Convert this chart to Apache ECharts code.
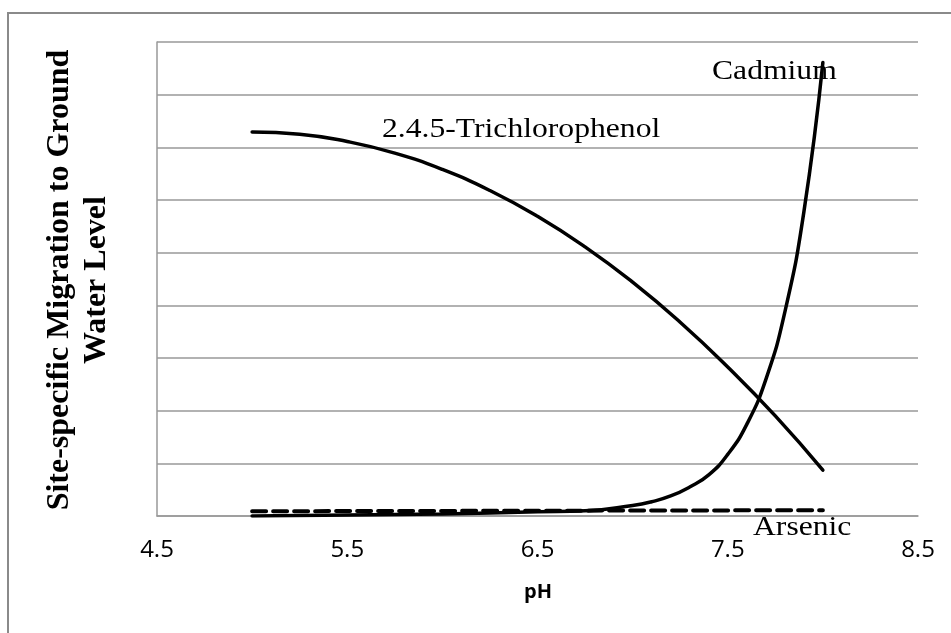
<!DOCTYPE html>
<html>
<head>
<meta charset="utf-8">
<script src="https://cdn.jsdelivr.net/npm/echarts@6/dist/echarts.min.js"></script>
<style>
html,body{margin:0;padding:0;background:#fff;}
#c{width:951px;height:633px;}
</style>
</head>
<body>
<div id="c"></div>
<script>
// pH values and (relative) site-specific migration levels
const trichloroPH = [5.0, 5.25, 5.5, 5.75, 6.0, 6.25, 6.5, 6.75, 7.0, 7.25, 7.5, 7.75, 8.0];
const trichloroVal = [7.29, 7.25, 7.11, 6.89, 6.58, 6.18, 5.69, 5.11, 4.44, 3.68, 2.83, 1.90, 0.87];

const cadmiumPH = [5.0, 5.5, 6.0, 6.5, 6.75, 7.0, 7.1, 7.2, 7.3, 7.4, 7.5, 7.6, 7.7, 7.8, 7.9, 8.0];
const cadmiumVal = [0.0, 0.02, 0.04, 0.08, 0.1, 0.2, 0.27, 0.38, 0.55, 0.78, 1.17, 1.74, 2.59, 3.87, 5.77, 8.61];

const arsenicPH = [5.0, 8.0];
const arsenicVal = [0.09, 0.11];

const xTickLabels = ['4.5', '5.5', '6.5', '7.5', '8.5'];
const seriesNames = ['2.4.5-Trichlorophenol', 'Cadmium', 'Arsenic'];
const yTitleLines = ['Site-specific Migration to Ground', 'Water Level'];
const xTitle = 'pH';

const zip = (a, b) => a.map((v, i) => [v, b[i]]);
const chart = echarts.init(document.getElementById('c'), null, {renderer: 'canvas'});
const serif = '"Liberation Serif", "Times New Roman", serif';
const gridCol = '#999999';

chart.setOption({
  animation: false,
  backgroundColor: '#ffffff',
  grid: {left: 157, right: 33, top: 42, bottom: 117, containLabel: false},
  xAxis: {
    type: 'value', min: 4.5, max: 8.5, interval: 0.5,
    axisLine: {show: true, lineStyle: {color: gridCol, width: 1.5}},
    axisTick: {show: false},
    splitLine: {show: false},
    axisLabel: {
      color: '#000', fontSize: 24, fontFamily: '"Open Sans", "Liberation Sans", Arial, sans-serif', margin: 22,
      formatter: function (v) {
        const idx = xTickLabels.indexOf(v.toFixed(1));
        return idx >= 0 ? xTickLabels[idx] : '';
      }
    }
  },
  yAxis: {
    type: 'value', min: 0, max: 9, interval: 1,
    axisLine: {show: true, lineStyle: {color: gridCol, width: 1.5}},
    axisTick: {show: false},
    axisLabel: {show: false},
    splitLine: {show: true, lineStyle: {color: gridCol, width: 1.5}}
  },
  series: [
    {name: seriesNames[0], type: 'line', data: zip(trichloroPH, trichloroVal), smooth: 0.5, showSymbol: false, symbol: 'none', z: 5,
     lineStyle: {color: '#000', width: 3.5, cap: 'round'}},
    {name: seriesNames[1], type: 'line', data: zip(cadmiumPH, cadmiumVal), smooth: 0.5, showSymbol: false, symbol: 'none', z: 5,
     lineStyle: {color: '#000', width: 3.5, cap: 'round'}},
    {name: seriesNames[2], type: 'line', data: zip(arsenicPH, arsenicVal), showSymbol: false, symbol: 'none', z: 5,
     lineStyle: {color: '#000', width: 4, type: [14, 7], cap: 'round'}}
  ],
  graphic: [
    {type: 'rect', z: -10, silent: true, shape: {x: 8, y: 13, width: 1000, height: 700},
     style: {fill: 'none', stroke: '#8a8a8a', lineWidth: 2}},
    {type: 'text', z: 0, x: 382, y: 116, scaleX: 1.13,
     style: {text: seriesNames[0], font: '28px ' + serif, fill: '#000', textAlign: 'left', textVerticalAlign: 'top'}},
    {type: 'text', z: 0, x: 712, y: 58, scaleX: 1.13,
     style: {text: seriesNames[1], font: '28px ' + serif, fill: '#000', textAlign: 'left', textVerticalAlign: 'top'}},
    {type: 'text', z: 0, x: 753, y: 514, scaleX: 1.13,
     style: {text: seriesNames[2], font: '28px ' + serif, fill: '#000', textAlign: 'left', textVerticalAlign: 'top'}},
    {type: 'text', z: 0, x: 60, y: 280, rotation: Math.PI / 2,
     style: {text: yTitleLines[0], font: 'bold 32px ' + serif, fill: '#000', textAlign: 'center', textVerticalAlign: 'middle'}},
    {type: 'text', z: 0, x: 97, y: 280, rotation: Math.PI / 2,
     style: {text: yTitleLines[1], font: 'bold 32px ' + serif, fill: '#000', textAlign: 'center', textVerticalAlign: 'middle'}},
    {type: 'text', z: 0, x: 538, y: 592,
     style: {text: xTitle, font: 'bold 20px "Open Sans", "Liberation Sans", Arial, sans-serif', fill: '#000', textAlign: 'center', textVerticalAlign: 'middle'}}
  ]
});
</script>
</body>
</html>
